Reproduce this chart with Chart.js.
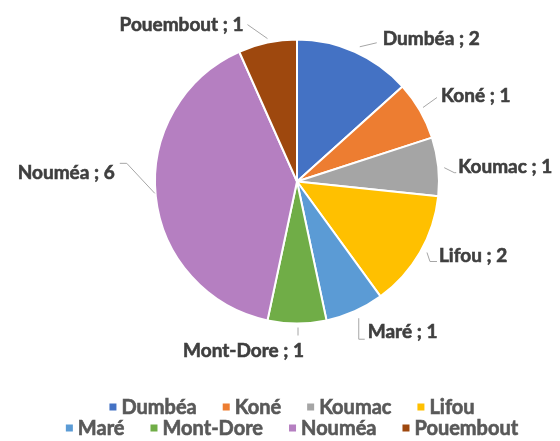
<!DOCTYPE html>
<html>
<head>
<meta charset="utf-8">
<script src="https://cdn.jsdelivr.net/npm/chart.js"></script>
<style>
  html, body { margin: 0; padding: 0; background: #fff; }
  #wrap { width: 560px; height: 441px; }
</style>
</head>
<body>
<div id="wrap"><canvas id="pieChart" width="560" height="441"></canvas></div>
<script>
// Data
const communes = ['Dumbéa', 'Koné', 'Koumac', 'Lifou', 'Maré', 'Mont-Dore', 'Nouméa', 'Pouembout'];
const counts = [2, 1, 1, 2, 1, 1, 6, 1];
const sliceColors = ['#4472C4', '#ED7D31', '#A5A5A5', '#FFC000', '#5B9BD5', '#70AD47', '#B57FC1', '#9E480E'];

// Label placement relative to the slice edge point (Excel-like manual layout)
const labelLayout = [
    { dx: 28, dy: -13, align: 'left', leader: [[5, -5], [22, -9]] },
    { dx: 21, dy: -15, align: 'left', leader: [[3, -3], [17, -13]] },
    { dx: 20, dy: 0, align: 'left', leader: [[6, 1], [16, 6], [18, 6]] },
    { dx: 19, dy: 3, align: 'left', leader: [[7, 0], [10, 9], [17, 9]] },
    { dx: 13, dy: 21, align: 'left', leader: [[4, 7], [4, 28], [10, 28]] },
    { dx: 7, dy: 27, align: 'right', leader: [[1, 4], [1, 12]] },
    { dx: -41, dy: -23, align: 'right', leader: [[-1, -3], [-29, -33], [-36, -33]] },
    { dx: -24, dy: -18, align: 'right', leader: [[0, -4], [-20, -18]] }
];

const LABEL_FONT = 'bold 19px Lato, "Open Sans", sans-serif';
const LEGEND_FONT = 'bold 20px Lato, "Open Sans", sans-serif';

// Excel-style text is a bit heavier than Lato bold: add a thin outline
function heavyText(ctx, text, x, y, color) {
    ctx.fillStyle = color;
    ctx.strokeStyle = color;
    ctx.lineWidth = 0.6;
    ctx.fillText(text, x, y);
    ctx.strokeText(text, x, y);
}

const sliceLabels = {
    id: 'sliceLabels',
    afterDatasetsDraw(chart) {
        const ctx = chart.ctx;
        const meta = chart.getDatasetMeta(0);
        ctx.save();
        meta.data.forEach((arc, i) => {
            const p = arc.getProps(['x', 'y', 'startAngle', 'endAngle', 'outerRadius'], true);
            const mid = (p.startAngle + p.endAngle) / 2;
            const ex = p.x + Math.cos(mid) * p.outerRadius;
            const ey = p.y + Math.sin(mid) * p.outerRadius;
            const lay = labelLayout[i];

            ctx.strokeStyle = '#A6A6A6';
            ctx.lineWidth = 1;
            ctx.beginPath();
            lay.leader.forEach((pt, k) => {
                if (k === 0) ctx.moveTo(ex + pt[0], ey + pt[1]);
                else ctx.lineTo(ex + pt[0], ey + pt[1]);
            });
            ctx.stroke();

            ctx.font = LABEL_FONT;
            ctx.textAlign = lay.align;
            ctx.textBaseline = 'middle';
            heavyText(ctx, communes[i] + ' ; ' + counts[i], ex + lay.dx, ey + lay.dy, '#3F3F3F');
        });
        ctx.restore();
    }
};

// Two-row legend like the Excel original
const rowLegend = {
    id: 'rowLegend',
    afterDraw(chart) {
        const ctx = chart.ctx;
        const rows = [communes.slice(0, 4), communes.slice(4)];
        const rowY = [407, 428];
        const box = 7, gapText = 5, gapItem = 26;
        const centerX = 292;
        ctx.save();
        ctx.font = LEGEND_FONT;
        ctx.textBaseline = 'middle';
        ctx.textAlign = 'left';
        rows.forEach((row, r) => {
            const widths = row.map(t => box + gapText + ctx.measureText(t).width);
            const total = widths.reduce((a, b) => a + b, 0) + gapItem * (row.length - 1);
            let x = centerX - total / 2;
            row.forEach((t, k) => {
                const idx = communes.indexOf(t);
                ctx.fillStyle = sliceColors[idx];
                ctx.fillRect(x, rowY[r] - box / 2, box, box);
                heavyText(ctx, t, x + box + gapText, rowY[r] + 1, '#595959');
                x += widths[k] + gapItem;
            });
        });
        ctx.restore();
    }
};

new Chart(document.getElementById('pieChart'), {
    type: 'pie',
    data: {
        labels: communes,
        datasets: [{
            data: counts,
            backgroundColor: sliceColors,
            borderColor: '#ffffff',
            borderWidth: 2
        }]
    },
    options: {
        responsive: false,
        animation: false,
        layout: { padding: { top: 38.5, bottom: 116.5, left: 149, right: 115 } },
        plugins: {
            legend: { display: false },
            tooltip: { enabled: false }
        }
    },
    plugins: [sliceLabels, rowLegend]
});
</script>
</body>
</html>
